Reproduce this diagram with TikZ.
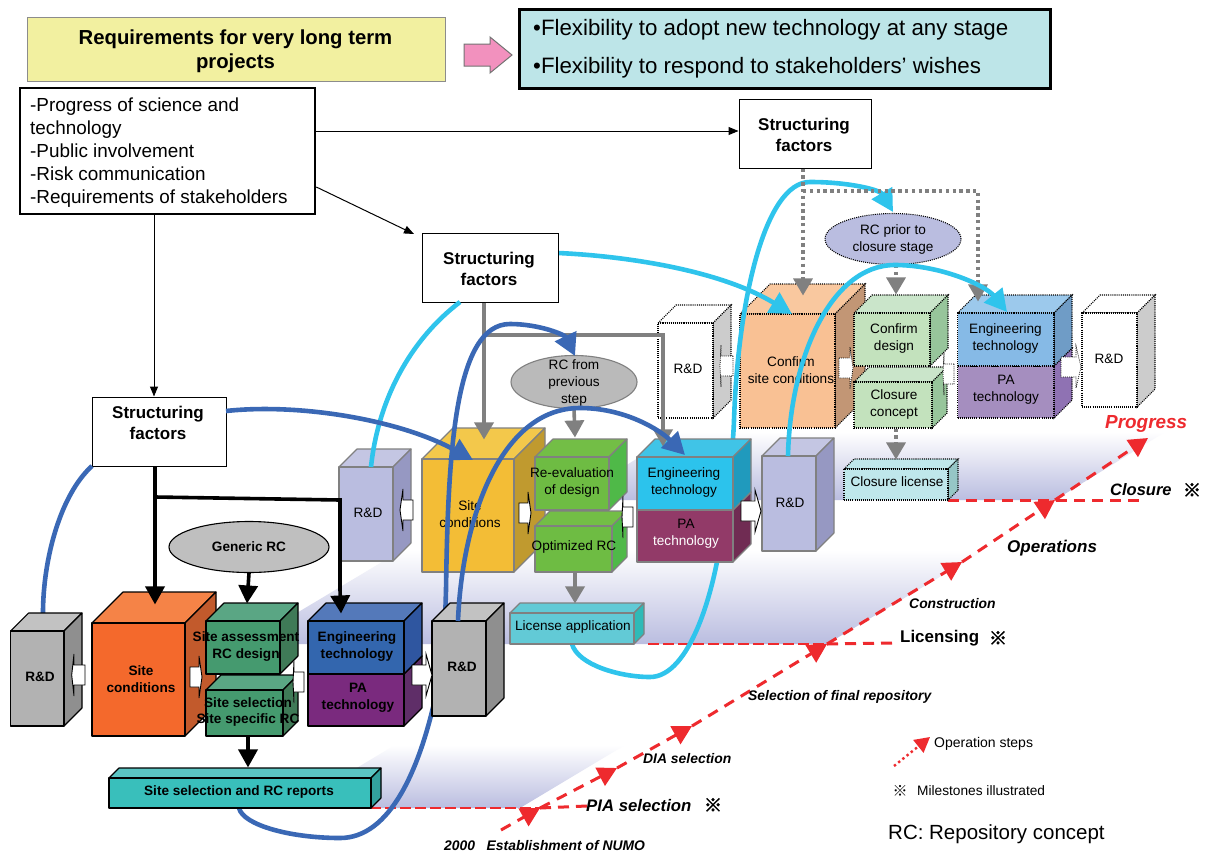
\documentclass[tikz,border=0pt]{standalone}
\usepackage{fontspec}
\setmainfont{Liberation Sans}
\newfontfamily\cjkfont{Noto Sans CJK JP}
\newfontfamily\cjkheavy[FakeBold=3]{Noto Sans CJK JP}
\usetikzlibrary{arrows.meta,shapes.geometric}
% palettes: F front, T top, S side
\newcommand{\palette}[4]{\definecolor{#1F}{HTML}{#2}\definecolor{#1T}{HTML}{#3}\definecolor{#1S}{HTML}{#4}}
\palette{grey}{B2B2B2}{C2C2C2}{8F8F8F}
\palette{orng}{F4692C}{F58347}{C25A2C}
\palette{dgrn}{459A6F}{5AA684}{3F7A57}
\palette{dblu}{3366AE}{5479BA}{2F56A0}
\palette{dpur}{7A2A7E}{7A2A7E}{5F2E68}
\palette{teal}{39BFBB}{5BC5C3}{33A09E}
\palette{lavn}{BABDE0}{C4C6E3}{9698C2}
\palette{yelo}{F3BD36}{F3C84B}{C09A2F}
\palette{lgrn}{6EBC43}{73BE46}{4FB948}
\palette{cyan}{2CC3EC}{40C4E7}{209ABD}
\palette{mrun}{923A68}{923A68}{702C53}
\palette{lics}{62CAD6}{62CAD6}{2FBAB7}
\palette{whit}{FFFFFF}{FFFFFF}{CCCCCC}
\palette{peach}{F9C194}{F9C89F}{C29675}
\palette{pgrn}{C3E2BD}{CAE5CA}{97C59B}
\palette{pblu}{86BAE6}{9CC9EC}{6F9CC6}
\palette{ppur}{A58EBF}{A58EBF}{8F72B3}
\palette{clic}{BFE7EB}{BFE7EB}{96C6C6}
\definecolor{lav}{HTML}{BABDE0}
\definecolor{midgrey}{HTML}{808080}
\definecolor{dkcurve}{HTML}{3A68B5}
\definecolor{cycurve}{HTML}{2FC4EC}
\definecolor{redline}{HTML}{EE2A2E}
\definecolor{yelbox}{HTML}{F2F0A0}
\definecolor{bluebox}{HTML}{BDE5E8}
\definecolor{pinkfill}{HTML}{F291BE}
\newcommand{\fsz}[2]{\fontsize{#1}{#2}\selectfont}
\tikzset{
  blackedge/.style={draw=black,line width=1.1pt,line join=round},
  greyedge/.style={draw=midgrey,line width=1.1pt,line join=round},
  dotedge/.style={draw=black,line width=1.05pt,dash pattern=on 1.05pt off 1.05pt},
  lblf/.style={inner sep=0pt,align=center,font=\bfseries\fsz{13.6}{16.6}},
  lblm/.style={inner sep=0pt,align=center,font=\fsz{13.6}{16.6}},
  lblt/.style={inner sep=0pt,align=center,font=\fsz{13.6}{17}},
  sfbox/.style={draw=black,fill=white,line width=1pt,inner sep=0pt},
  sflbl/.style={inner sep=0pt,align=center,font=\bfseries\fsz{17}{21}},
  blk/.style={draw=black,fill=white,line width=0.9pt,line join=miter},
  blkd/.style={draw=black,fill=white,line width=0.7pt,dash pattern=on 1pt off 1.1pt},
  blackcon/.style={draw=black,line width=3.6pt,-{Triangle[length=18pt,width=19pt]}},
  greycon/.style={draw=midgrey,line width=3.6pt,-{Triangle[length=17pt,width=19pt]}},
  dotcon/.style={draw=midgrey,line width=3.4pt,dash pattern=on 3.4pt off 3.4pt,-{Triangle[length=17pt,width=19pt]}},
  thincon/.style={draw=black,line width=1pt,-{Triangle[length=10pt,width=8pt]}},
  dkc/.style={draw=dkcurve,line width=4.6pt,-{Triangle[length=22pt,width=23pt]}},
  dkn/.style={draw=dkcurve,line width=4.6pt},
  cyc/.style={draw=cycurve,line width=4.6pt,-{Triangle[length=22pt,width=23pt]}},
  cyn/.style={draw=cycurve,line width=4.6pt},
  redprog/.style={draw=redline,line width=3pt,dash pattern=on 11pt off 8pt,-{Triangle[length=19pt,width=20pt]}},
  redthick/.style={draw=redline,line width=3pt,dash pattern=on 11pt off 7pt},
  redthin/.style={draw=redline,line width=1.1pt,dash pattern=on 11pt off 4pt},
  stagelbl/.style={inner sep=0pt,anchor=west,font=\bfseries\itshape\fsz{13.9}{15}},
  markmk/.style={inner sep=0pt,font=\cjkheavy\fsz{18}{18}},
}
\newcommand{\cube}[8][blackedge]{%
  \path[#1,fill=#8T] (#3,#4) -- ({#3+#7},{#4-#7}) -- ({#5+#7},{#4-#7}) -- (#5,#4) -- cycle;
  \path[#1,fill=#8S] (#5,#4) -- ({#5+#7},{#4-#7}) -- ({#5+#7},{#6-#7}) -- (#5,#6) -- cycle;
  \node[#1,fill=#8F,inner sep=0pt,minimum width={#5-#3},minimum height={#6-#4}] (#2) at ({(#3+#5)/2},{(#4+#6)/2}) {};
}
% block arrow: [style]{body end}{wing x}{tip x}{y centre}{body half}{wing half}
\newcommand{\barrow}[7][blk]{%
  \path[#1] (#2,{#5-#6}) -- (#3,{#5-#6}) -- (#3,{#5-#7}) -- (#4,#5) -- (#3,{#5+#7}) -- (#3,{#5+#6}) -- (#2,{#5+#6}) -- cycle;
}
\begin{document}
\begin{tikzpicture}[x=1pt,y=-1pt]
\useasboundingbox (0,0) rectangle (1209,854);
\fill[white] (0,0) rectangle (1209,854);
% ---------- ground planes
\shade[top color=white,bottom color=lav] (570,500) -- (1055,500) -- (1165,432) -- (680,432) -- cycle;
\shade[top color=white,bottom color=lav] (245,644) -- (827,644) -- (985,550) -- (402,550) -- cycle;
\shade[top color=white,bottom color=lav] (290,808) -- (520,808) -- (625,745) -- (395,745) -- cycle;
% ---------- red progress line
\coordinate (p0) at (501,830);
\coordinate (p1) at (540,808);
\coordinate (p2) at (617,768);
\coordinate (p3) at (692,726);
\coordinate (p4) at (827,644);
\coordinate (p5) at (962,562);
\coordinate (p6) at (1055,500);
\coordinate (p7) at (1148,438);
\draw[redthin] (310,808) -- (p1);
\draw[redthin] (648,644) -- (p4);
\draw[redprog] (p0) -- (p1);
\draw[redprog] (p1) -- (p2);
\draw[redprog] (p2) -- (p3);
\draw[redprog] (p3) -- (p4);
\draw[redprog] (p4) -- (p5);
\draw[redprog] (p5) -- (p6);
\draw[redprog] (p6) -- (p7);
\draw[redthick] (p1) -- (587,806);
\draw[redthick] (p4) -- (895,643);
\draw[redthick] (948,500) -- (1142,500);
% ---------- far (dotted) step
\cube[dotedge]{rdtl}{658}{323}{713}{418}{18}{whit}
\node[lblt] (rdtlt) at (688,369) {R\&D};
\cube[dotedge]{rdtr}{1082}{313}{1137}{407}{18}{whit}
\node[lblt] (rdtrt) at (1109,359) {R\&D};
\cube[dotedge]{cfsc}{740}{314}{835}{428}{30}{peach}
\node[lblt] (cfsct) at (791,370) {Confirm\\site conditions};
\cube[dotedge]{cfds}{854}{313}{930}{366}{18}{pgrn}
\node[lblt] (cfdst) at (894,338) {Confirm\\design};
\cube[dotedge]{clcn}{854}{382}{932}{428}{15}{pgrn}
\node[lblt] (clcnt) at (894,404) {Closure\\concept};
\cube[dotedge]{papp}{957.5}{366}{1054}{418}{18}{ppur}
\node[lblt] (pappt) at (1006,390) {PA\\technology};
\cube[dotedge]{enpp}{957.5}{313}{1054}{366}{18}{pblu}
\node[lblt] (enppt) at (1005.5,338) {Engineering\\technology};
\cube[dotedge]{clic}{844}{469}{948}{500}{10}{clic}
\node[lblt] (clict) at (897,482) {Closure license};
\node[dotedge,fill=lavnF,ellipse,inner sep=0pt,minimum width=136,minimum height=51] (rcpr) at (893,239) {};
\node[lblt] (rcprt) at (893,239) {RC prior to\\closure stage};
\barrow[blkd]{733}{721}{720}{366}{10}{21}
\barrow[blkd]{839}{850}{853}{368}{10}{21}
\barrow[blkd]{954}{944}{943}{374}{10}{21}
\barrow[blkd]{1061}{1076}{1081}{367}{10}{21}
% ---------- cyan curves behind the middle step
\draw[cyc] (558,253) .. controls (625,256) and (720,270) .. (792,314);
\draw[cyc] (572,644) .. controls (578,665) and (620,677) .. (650,677) .. controls (690,677) and (715,590) .. (722,530) .. controls (728,490) and (733,450) .. (734,420) .. controls (738,300) and (765,182) .. (810,182) .. controls (850,182) and (880,190) .. (893,212);
% ---------- middle step
\cube[greyedge]{rdm1}{339}{467}{393}{561}{18}{lavn}
\node[lblm] (rdm1t) at (368,513) {R\&D};
\cube[greyedge]{rdm2}{762}{456}{816}{551}{18}{lavn}
\node[lblm] (rdm2t) at (790,503) {R\&D};
\cube[greyedge]{scm}{422}{459}{514}{572}{31}{yelo}
\node[lblm] (scmt) at (470,514) {Site\\conditions};
\cube[greyedge]{reev}{535}{457}{609}{510}{18}{lgrn}
\node[lblm] (reevt) at (572,482.5) {Re-evaluation\\of design};
\cube[greyedge]{optr}{535}{526}{612}{572}{15}{lgrn}
\node[lblm] (optrt) at (574,546.5) {Optimized RC};
\cube[greyedge]{pam}{637}{510}{733}{562}{18}{mrun}
\node[lblm] (pamt) at (686,533.5) {PA\\\textcolor{white}{technology}};
\cube[greyedge]{enm}{637}{457}{733}{510}{18}{cyan}
\node[lblm] (enmt) at (684,482.5) {Engineering\\technology};
\cube[greyedge]{lica}{510}{613}{634}{644}{10}{lics}
\node[lblm] (licat) at (573,626.5) {License application};
\node[greyedge,fill=black!27,ellipse,inner sep=0pt,minimum width=126,minimum height=53] (rcfp) at (574,382) {};
\node[lblm] (rcfpt) at (574,383) {RC from\\previous\\step};
\barrow{413}{403}{400}{510}{10}{21}
\barrow{519}{528}{531}{513}{10}{21}
\barrow{633}{623}{622}{517}{10}{21}
\barrow{741}{755}{761}{511}{10}{21}
% ---------- connectors from structuring factors
\node[sfbox,minimum width=132,minimum height=69] (sf1) at (805,133.5) {};
\node[sflbl] (sf1t) at (804,135) {Structuring\\factors};
\node[sfbox,minimum width=136,minimum height=69] (sf2) at (490,267.5) {};
\node[sflbl] (sf2t) at (489,268.5) {Structuring\\factors};
\node[sfbox,minimum width=134,minimum height=69] (sf3) at (159,431.5) {};
\node[sflbl] (sf3t) at (158,422.5) {Structuring\\factors};
\draw[dotcon] ([xshift=-2pt]sf1.south) -- ([xshift=15.5pt,yshift=18pt]cfsc.north);
\draw[dotedge,draw=midgrey,line width=3.4pt,dash pattern=on 3.4pt off 3.4pt] (803,191) -- (978,191) -- (978,260);
\draw[dotcon] (978,260) -- ([xshift=-27.75pt,yshift=11pt]enpp.north);
\draw[dotcon] ([xshift=3pt]rcpr.south) -- ([xshift=4pt,yshift=18pt]cfds.north);
\draw[dotcon] ([xshift=3pt]clcn.south) -- ([xshift=-0pt,yshift=9pt]clic.north);
\draw[greycon] ([xshift=-6pt]sf2.south) -- ([xshift=16pt,yshift=19pt]scm.north);
\draw[draw=midgrey,line width=3.6pt,line join=miter] (484,335) -- (663,335) -- (663,400);
\draw[greycon] (663,400) -- ([xshift=-22pt,yshift=10pt]enm.north);
\draw[greycon] (rcfp.south) -- ([xshift=3pt,yshift=19pt]reev.north);
\draw[greycon] ([xshift=1.5pt]optr.south) -- ([xshift=3pt,yshift=9pt]lica.north);
% ---------- curves over the middle step
\draw[cyn] (371,467) .. controls (378,400) and (410,340) .. (460,302);
\draw[cyc] (788,456) .. controls (790,360) and (830,265) .. (895,265) .. controls (940,265) and (985,285) .. (1007,312);
\draw[dkc] (239,808) .. controls (243,825) and (290,838) .. (340,838) .. controls (390,838) and (420,770) .. (437,690) .. controls (445,650) and (445,620) .. (446,590) .. controls (448,450) and (455,324) .. (510,324) .. controls (540,324) and (565,335) .. (575,356);
\draw[dkn] (43,613) .. controls (43,560) and (60,495) .. (92,466);
\draw[dkc] (226,411) .. controls (300,403) and (400,420) .. (473,460);
% ---------- front step
\cube{rdf1}{10.7}{631}{64}{726}{18}{grey}
\node[lblf] (rdf1t) at (40,677) {R\&D};
\cube{rdf2}{432}{621}{486}{716}{18}{grey}
\node[lblf] (rdf2t) at (462,667) {R\&D};
\cube{scf}{92}{623}{185}{736}{31}{orng}
\node[lblf] (scft) at (141,679) {Site\\conditions};
\cube{sass}{206}{621}{280}{674}{18}{dgrn}
\node[lblf] (sasst) at (246,646.5) {Site assessment\\RC design};
\cube{ssel}{206}{690}{283}{736}{15}{dgrn}
\node[lblf] (sselt) at (248,712) {Site selection\\Site specific RC};
\cube{paf}{308}{674}{404}{726}{18}{dpur}
\node[lblf] (paft) at (358,698) {PA\\technology};
\cube{enf}{308}{621}{404}{674}{18}{dblu}
\node[lblf] (enft) at (357,646.5) {Engineering\\technology};
\cube{rept}{109}{778}{371}{808}{10}{teal}
\node[lblf] (reptt) at (239,791.5) {Site selection and RC reports};
\node[blackedge,fill=black!25,ellipse,inner sep=0pt,minimum width=160,minimum height=51] (gnrc) at (249,547) {};
\node[lblf] (gnrct) at (249,547) {Generic RC};
\barrow{85}{74}{71.7}{675}{10}{21}
\barrow{190}{199}{202}{677}{10}{21}
\barrow{304}{294}{293}{682}{10}{21}
\barrow{412}{426}{432}{675}{10}{21}
\draw[blackcon] ([xshift=-4pt]sf3.south) -- ([xshift=16.5pt,yshift=18pt]scf.north);
\draw[draw=black,line width=3.6pt] (155,497) -- (340,500) -- (340,590);
\draw[blackcon] (340,590) -- ([xshift=-15pt,yshift=7pt]enf.north);
\draw[blackcon] (gnrc.south) -- ([xshift=4pt,yshift=17pt]sass.north);
\draw[blackcon] ([xshift=3.5pt]ssel.south) -- ([xshift=8pt,yshift=10pt]rept.north);
\draw[dkc] (458,621) .. controls (462,520) and (500,408) .. (580,408) .. controls (625,408) and (660,430) .. (685,455);
% ---------- top banner
\node[draw=black!45,fill=yelbox,line width=0.8pt,inner sep=0pt,minimum width=418,minimum height=64] (reqt) at (236,49) {};
\node[inner sep=0pt,align=center,font=\bfseries\fsz{20.3}{24}] (reqtt) at (235.5,51) {Requirements for very long term\\projects};
\draw[draw=black!55,fill=pinkfill,line width=1pt] (464,44) -- (490,44) -- (490,37) -- (512,55) -- (490,73) -- (490,66) -- (464,66) -- cycle;
\node[draw=black,fill=bluebox,line width=3pt,minimum width=531,minimum height=79,inner sep=0pt] (flex) at (784.5,48.5) {};
\node[inner sep=0pt,anchor=west,font=\fsz{22.3}{26}] (flex1) at (533,30) {•Flexibility to adopt new technology at any stage};
\node[inner sep=0pt,anchor=west,font=\fsz{22.3}{26}] (flex2) at (533,68) {•Flexibility to respond to stakeholders’ wishes};
\node[draw=black,fill=white,line width=2.6pt,minimum width=295,minimum height=126,inner sep=0pt] (prog) at (167.5,151) {};
\node[inner sep=0pt,anchor=north west,align=left,font=\fsz{18.9}{23}] (progt) at (30,98) {-Progress of science and\\technology\\-Public involvement\\-Risk communication\\-Requirements of stakeholders};
\draw[thincon] ([yshift=20pt]prog.east) -- ([yshift=2.5pt]sf1.west);
\draw[thincon] ([yshift=-36pt]prog.east) -- (414,234);
\draw[thincon] ([xshift=-13.5pt]prog.south) -- ([xshift=-5pt]sf3.north);
% ---------- stage labels
\node[inner sep=0pt,anchor=west,text=redline,font=\bfseries\itshape\fsz{18.9}{20}] (lprg) at (1105,424) {Progress};
\node[stagelbl,font=\bfseries\itshape\fsz{16.5}{18}] (lcls) at (1110,490) {Closure};
\node[markmk] (mcls) at (1192,490) {※};
\node[stagelbl,font=\bfseries\itshape\fsz{17}{18}] (lops) at (1007,548) {Operations};
\node[stagelbl] (lcon) at (909,604) {Construction};
\node[inner sep=0pt,anchor=west,font=\bfseries\fsz{16.9}{18}] (llic) at (900,638) {Licensing};
\node[markmk] (mlic) at (998,638) {※};
\node[stagelbl] (lsel) at (748,697) {Selection of final repository};
\node[stagelbl] (ldia) at (643,759) {DIA selection};
\node[stagelbl,font=\bfseries\itshape\fsz{16.75}{18}] (lpia) at (586,805) {PIA selection};
\node[markmk] (mpia) at (713,805) {\itshape ※};
\node[stagelbl] (lnum) at (444,846) {2000\ \ \ Establishment of NUMO};
% ---------- legend
\coordinate (lega) at (894,766);
\coordinate (legb) at (930,737);
\draw[draw=redline,line width=2.4pt,dash pattern=on 2.4pt off 3pt,-{Triangle[length=15pt,width=16pt]}] (lega) -- (legb);
\node[inner sep=0pt,anchor=west,font=\fsz{14}{15}] (lgop) at (934,744) {Operation steps};
\node[inner sep=0pt,font=\cjkfont\fsz{15}{15}] (lgmk) at (900,791) {※};
\node[inner sep=0pt,anchor=west,font=\fsz{13.7}{15}] (lgms) at (917,791) {Milestones illustrated};
\node[inner sep=0pt,anchor=west,font=\fsz{20.5}{24}] (lgrc) at (888,834) {RC: Repository concept};
\end{tikzpicture}
\end{document}
